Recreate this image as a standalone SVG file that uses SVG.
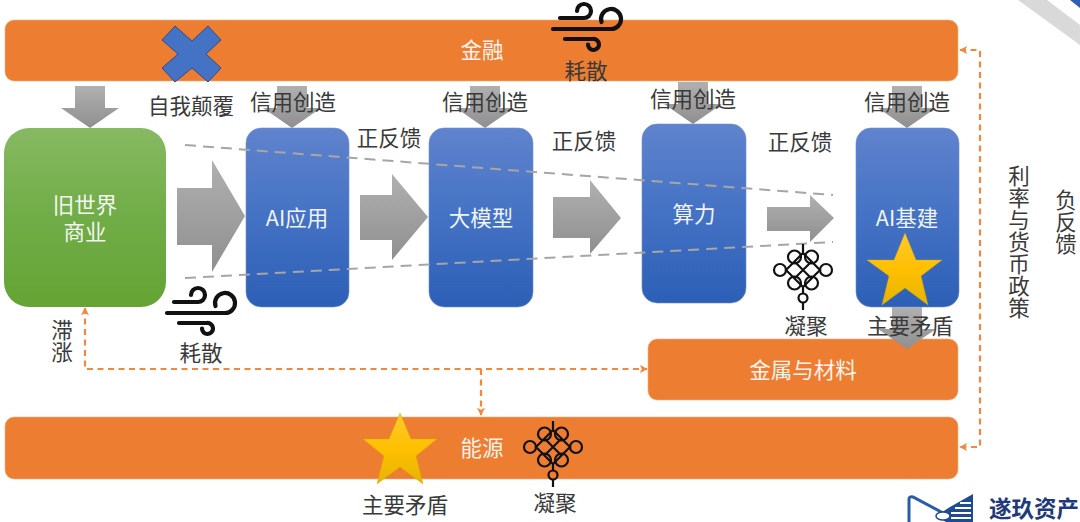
<svg xmlns="http://www.w3.org/2000/svg" xmlns:xlink="http://www.w3.org/1999/xlink" width="1080" height="522" viewBox="0 0 1080 522">
<style>
text{font-family:"Noto Sans CJK SC","Noto Sans",sans-serif;font-size:21.5px;fill:#3a3a3a;text-anchor:middle}
.v{writing-mode:vertical-rl;letter-spacing:0.5px}
.w{fill:#fff;opacity:.92}
.o{fill:#ed7d31;stroke:#f4b183;stroke-width:.6}
.b{fill:url(#gb);stroke:#6f8fd4;stroke-width:.6}
.a{fill:url(#ga)}
.s{fill:url(#gs);stroke:#d9a600;stroke-width:.4}
.gd{fill:none;stroke:#a6a6a6;stroke-width:2;stroke-dasharray:11 7}
.od{fill:none;stroke:#f4873f;stroke-width:2.2;stroke-dasharray:6 4.5}
.ic{fill:none;stroke:#111;stroke-width:4.2;stroke-linecap:round}
.kn{fill:none;stroke:#111;stroke-width:2.200}
</style>
<defs>
<linearGradient id="gg" x1="0" y1="0" x2="0" y2="1"><stop offset="0" stop-color="#87b962"/><stop offset=".5" stop-color="#70ad47"/><stop offset="1" stop-color="#65a334"/></linearGradient>
<linearGradient id="gb" x1="0" y1="0" x2="0" y2="1"><stop offset="0" stop-color="#6083cd"/><stop offset=".5" stop-color="#4472c4"/><stop offset="1" stop-color="#2c5fb6"/></linearGradient>
<linearGradient id="ga" x1="0" y1="0" x2="0" y2="1"><stop offset="0" stop-color="#b0b0b0"/><stop offset="1" stop-color="#8f8f8f"/></linearGradient>
<linearGradient id="gs" x1="0" y1="0" x2="0" y2="1"><stop offset="0" stop-color="#fdc92f"/><stop offset=".5" stop-color="#ffc000"/><stop offset="1" stop-color="#e6b400"/></linearGradient>
<marker id="m" viewBox="0 0 10 10" refX="9" refY="5" markerWidth="9" markerHeight="8" orient="auto-start-reverse" markerUnits="userSpaceOnUse"><path d="M0,0L10,5L0,10L2.5,5Z" fill="#f4873f"/></marker>
<path id="da" class="a" d="M-15,0H15V22H29L0,42L-29,22H-15Z"/>
<g id="wind" class="ic">
<path d="M9,12H33A7,7 0 1 0 26,5"/>
<path d="M2,23H60A10,10 0 1 0 50.500,16"/>
<path d="M14,33H42A5.500,5.500 0 1 1 37,38.500"/>
</g>
<g id="knot" class="kn">
<path d="M0,-26V-17"/>
<path d="M-17,0L0,-17L17,0L0,17Z"/>
<path d="M-8.500,-8.500L8.500,8.500M8.500,-8.500L-8.500,8.500"/>
<circle cx="-23" cy="0" r="6"/><circle cx="23" cy="0" r="6"/>
<circle cx="-8.500" cy="-13" r="6.500"/><circle cx="8.500" cy="-13" r="6.500"/>
<circle cx="-8.500" cy="13" r="6.500"/><circle cx="8.500" cy="13" r="6.500"/>
<path d="M0,17V23.500"/>
<circle cx="0" cy="28" r="4.500"/>
<path d="M0,32.500V40"/>
</g>
</defs>
<rect width="1080" height="522" fill="#fff"/>
<g id="corner">
<polygon points="1018,0 1047,0 1080,25 1080,45" fill="#d9d9d9"/>
<polygon points="1070,0 1080,0 1080,8" fill="#2c5fb6"/>
</g>
<g id="jinrong"><rect class="o" x="5" y="20" width="953" height="61" rx="9"/><text class="w" x="482" y="58">金融</text></g>
<g id="nengyuan"><rect class="o" x="5" y="417" width="953" height="62" rx="9"/><text class="w" x="482" y="456">能源</text></g>
<g id="jinshu"><rect class="o" x="648" y="339" width="310" height="61" rx="9"/><text class="w" x="803" y="378">金属与材料</text></g>
<g id="arrows">
<use xlink:href="#da" x="90" y="86"/>
<use xlink:href="#da" x="292" y="86"/>
<use xlink:href="#da" x="485" y="86"/>
<use xlink:href="#da" x="693" y="82"/>
<use xlink:href="#da" x="907" y="86"/>
<polygon class="a" points="177,188 212,188 212,160 245,216 212,272 212,245 177,245"/>
<polygon class="a" points="360,195 392,195 392,174 428,217 392,260 392,240 360,240"/>
<polygon class="a" points="553,197 590,197 590,180 621,218 590,254 590,238 553,238"/>
<polygon class="a" points="767,207 810,207 810,195 834,218 810,242 810,231 767,231"/>
</g>
<g id="old"><rect x="4" y="128" width="162" height="179" rx="25" fill="url(#gg)"/><text class="w" x="85" y="213">旧世界<tspan x="85" dy="27">商业</tspan></text></g>
<g id="app"><rect class="b" x="246" y="128" width="103" height="179" rx="15"/><text class="w" x="297" y="226">AI应用</text></g>
<g id="model"><rect class="b" x="429" y="128" width="104" height="179" rx="15"/><text class="w" x="481" y="226">大模型</text></g>
<g id="compute"><rect class="b" x="642" y="124" width="104" height="179" rx="15"/><text class="w" x="694" y="222">算力</text></g>
<g id="infra"><rect class="b" x="856" y="128" width="103" height="179" rx="15"/><text class="w" x="907" y="226">AI基建</text>
<polygon class="s" points="905,233 916,260 942,260 921,276 928,305 905,288 882,305 889,276 867,260 894,260"/></g>
<use xlink:href="#da" x="907" y="307"/>
<g id="connectors">
<path class="gd" d="M185,145L833,195"/>
<path class="gd" d="M185,278L833,242"/>
<path class="od" d="M85,308V369H647" marker-start="url(#m)" marker-end="url(#m)"/>
<path class="od" d="M481,369V415" marker-end="url(#m)"/>
<path class="od" d="M960,50H980V447H960" marker-start="url(#m)" marker-end="url(#m)"/>
</g>
<g id="disrupt">
<polygon points="175,26 192,41 208,26 221,40 206,54 221,68 208,82 192,68 175,82 162,68 178,54 162,40" fill="#4472c4" stroke="#2f4f86" stroke-width="1"/>
<text x="191" y="114">自我颠覆</text>
</g>
<g id="wind1"><use xlink:href="#wind" x="551" y="6"/><text x="586" y="79">耗散</text></g>
<g id="wind2"><use xlink:href="#wind" x="165" y="290"/><text x="201" y="361">耗散</text></g>
<g id="star2"><polygon class="s" points="400,413 411,439 437,439 416,456 423,484 400,467 377,484 384,456 363,439 389,439"/><text x="405" y="513">主要矛盾</text></g>
<g id="knot1"><use xlink:href="#knot" x="803" y="270"/><text x="806" y="334">凝聚</text></g>
<g id="knot2"><use xlink:href="#knot" x="553" y="447"/><text x="555" y="511">凝聚</text></g>
<g id="labels">
<text x="293" y="110">信用创造</text>
<text x="485" y="110">信用创造</text>
<text x="693" y="107">信用创造</text>
<text x="907" y="110">信用创造</text>
<text x="389" y="146">正反馈</text>
<text x="584" y="149">正反馈</text>
<text x="800" y="150">正反馈</text>
<text x="910" y="334">主要矛盾</text>
<text class="v" x="62" y="341">滞涨</text>
<text class="v" x="1019" y="242">利率与货币政策</text>
<text class="v" x="1066" y="222">负反馈</text>
</g>
<g id="logo">
<path d="M909,522V499Q909,496 913,497L945,514" fill="none" stroke="#2a5da8" stroke-width="3"/>
<path d="M973,494L950,507L936,516L946,522H973Z" fill="#1f4b95"/>
<path d="M960,503H971M955,508H971M951,513H971M951,518H971" stroke="#fff" stroke-width="1.800"/>
<ellipse cx="943" cy="516" rx="7" ry="4" fill="#fff" stroke="#1f4b95" stroke-width="1.500"/>
<text x="989" y="517" style="font-size:22.5px;font-weight:700;fill:#1f3a7a;text-anchor:start">遂玖资产</text>
</g>
</svg>
